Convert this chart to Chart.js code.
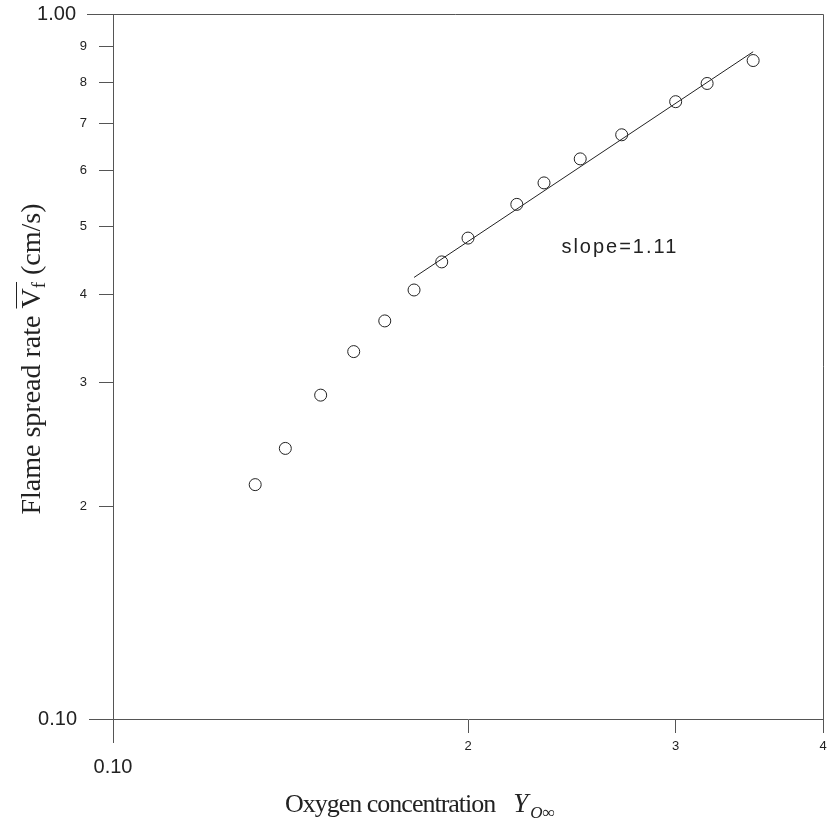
<!DOCTYPE html>
<html>
<head>
<meta charset="utf-8">
<script src="https://cdn.jsdelivr.net/npm/chart.js@4.4.1/dist/chart.umd.min.js"></script>
<style>
  html, body { margin: 0; padding: 0; background: #fff; }
  #wrap { width: 830px; height: 824px; }
</style>
</head>
<body>
<div id="wrap"><canvas id="chartSpread" width="830" height="824"></canvas></div>
<script>
// measured spread rates vs ambient oxygen concentration (log-log)
const oxygenConc = [0.132, 0.140, 0.150, 0.160, 0.170, 0.180, 0.190, 0.200, 0.220, 0.232, 0.249, 0.270, 0.300, 0.319, 0.349];
const spreadRate = [0.215, 0.242, 0.288, 0.332, 0.367, 0.406, 0.445, 0.481, 0.537, 0.576, 0.623, 0.674, 0.751, 0.797, 0.859];

// power-law fit through the upper points
const fitConc = [0.180, 0.349];
const fitRate = [0.423, 0.884];
const slopeText = 'slope=1.11';
const slopeAt = [0.240, 0.458];

const xTickValues = [0.1, 0.2, 0.3, 0.4];
const yTickValues = [0.1, 0.2, 0.3, 0.4, 0.5, 0.6, 0.7, 0.8, 0.9, 1.0];

const SANS = '"Liberation Sans", Arial, sans-serif';
const SERIF = '"Liberation Serif", "Times New Roman", serif';
const INK = '#222';
const AXIS = '#555';

const points = oxygenConc.map((x, i) => ({ x, y: spreadRate[i] }));
const fitLine = fitConc.map((x, i) => ({ x, y: fitRate[i] }));

const isEnd = v => Math.abs(v - 0.1) < 1e-6 || Math.abs(v - 1) < 1e-6;

// frame, long end ticks, end labels, axis titles and slope note
const decorations = {
  id: 'decorations',
  afterDraw(chart) {
    const { ctx, chartArea: a, scales: { x, y } } = chart;
    ctx.save();
    ctx.strokeStyle = AXIS;
    ctx.lineWidth = 1;
    ctx.beginPath();
    // top frame, running out over the 1.00 tick
    ctx.moveTo(a.left - 26, y.getPixelForValue(1) + 0.5);
    ctx.lineTo(a.right + 0.5, y.getPixelForValue(1) + 0.5);
    ctx.lineTo(a.right + 0.5, a.bottom);
    // 0.10 ticks on both axes
    ctx.moveTo(a.left - 24, y.getPixelForValue(0.1) + 0.5);
    ctx.lineTo(a.left, y.getPixelForValue(0.1) + 0.5);
    ctx.moveTo(x.getPixelForValue(0.1) + 0.5, a.bottom);
    ctx.lineTo(x.getPixelForValue(0.1) + 0.5, a.bottom + 24);
    ctx.stroke();

    ctx.fillStyle = INK;
    ctx.font = '20px ' + SANS;
    ctx.textAlign = 'right';
    ctx.textBaseline = 'middle';
    ctx.fillText('1.00', a.left - 37, y.getPixelForValue(1));
    ctx.fillText('0.10', a.left - 36, y.getPixelForValue(0.1));
    ctx.textAlign = 'center';
    ctx.fillText('0.10', x.getPixelForValue(0.1), a.bottom + 48);

    // slope annotation
    ctx.font = '20px ' + SANS;
    ctx.textAlign = 'left';
    ctx.textBaseline = 'alphabetic';
    ctx.letterSpacing = '2px';
    ctx.fillText(slopeText, x.getPixelForValue(slopeAt[0]), y.getPixelForValue(slopeAt[1]));

    // x title: Oxygen concentration  Y_O∞
    const base = 812;
    let cx = a.left + 172;
    ctx.font = '26px ' + SERIF;
    ctx.letterSpacing = '-1px';
    ctx.fillText('Oxygen concentration', cx, base);
    cx += ctx.measureText('Oxygen concentration').width + 18;
    ctx.letterSpacing = '0px';
    ctx.font = 'italic 27px ' + SERIF;
    ctx.fillText('Y', cx, base);
    cx += ctx.measureText('Y').width + 2;
    ctx.font = 'italic 17px ' + SERIF;
    ctx.fillText('O\u221e', cx, base + 6);

    // y title, rotated: Flame spread rate V̄f (cm/s)
    ctx.translate(40, 359);
    ctx.rotate(-Math.PI / 2);
    const main = '28px ' + SERIF, sub = '19px ' + SERIF;
    ctx.font = main;
    const w1 = ctx.measureText('Flame spread rate ').width;
    const wV = ctx.measureText('V').width;
    const w3 = ctx.measureText(' (cm/s)').width;
    ctx.font = sub;
    const wf = ctx.measureText('f').width;
    let px = -(w1 + wV + wf + w3) / 2;
    ctx.font = main;
    ctx.fillText('Flame spread rate ', px, 0);
    px += w1;
    ctx.fillText('V', px, 0);
    ctx.beginPath();
    ctx.moveTo(px, -23.5);
    ctx.lineTo(px + wV + wf, -23.5);
    ctx.strokeStyle = INK;
    ctx.stroke();
    px += wV;
    ctx.font = sub;
    ctx.fillText('f', px, 5);
    px += wf;
    ctx.font = main;
    ctx.fillText(' (cm/s)', px, 0);
    ctx.restore();
  }
};

new Chart(document.getElementById('chartSpread'), {
  type: 'scatter',
  data: {
    datasets: [
      {
        label: 'Measured',
        data: points,
        pointStyle: 'circle',
        pointRadius: 6,
        pointBorderWidth: 1,
        borderColor: INK,
        backgroundColor: 'rgba(0,0,0,0)',
      },
      {
        type: 'line',
        label: 'Fit',
        data: fitLine,
        borderColor: INK,
        borderWidth: 1,
        pointRadius: 0,
        fill: false,
      },
    ],
  },
  options: {
    responsive: false,
    animation: false,
    layout: { padding: { top: 14, right: 7, bottom: 0, left: 0 } },
    plugins: {
      legend: { display: false },
      tooltip: { enabled: false },
    },
    scales: {
      x: {
        type: 'logarithmic',
        position: 'bottom',
        min: 0.1,
        max: 0.4,
        afterBuildTicks: s => { s.ticks = xTickValues.map(v => ({ value: v })); },
        afterFit: s => { s.height = 105; s.paddingLeft = 0; s.paddingRight = 0; },
        grid: { drawOnChartArea: false, tickLength: 14, color: AXIS },
        border: { color: AXIS, width: 1 },
        ticks: {
          autoSkip: false,
          maxRotation: 0,
          padding: 6,
          color: INK,
          font: { family: SANS, size: 13 },
          callback: v => isEnd(v) ? '' : String(Math.round(v * 10)),
        },
      },
      y: {
        type: 'logarithmic',
        min: 0.1,
        max: 1,
        afterBuildTicks: s => { s.ticks = yTickValues.map(v => ({ value: v })); },
        afterFit: s => { s.width = 113; s.paddingTop = 0; s.paddingBottom = 0; },
        grid: { drawOnChartArea: false, tickLength: 14, color: AXIS },
        border: { color: AXIS, width: 1 },
        ticks: {
          autoSkip: false,
          padding: 12,
          color: INK,
          font: { family: SANS, size: 13 },
          callback: v => isEnd(v) ? '' : String(Math.round(v * 10)),
        },
      },
    },
  },
  plugins: [decorations],
});
</script>
</body>
</html>
